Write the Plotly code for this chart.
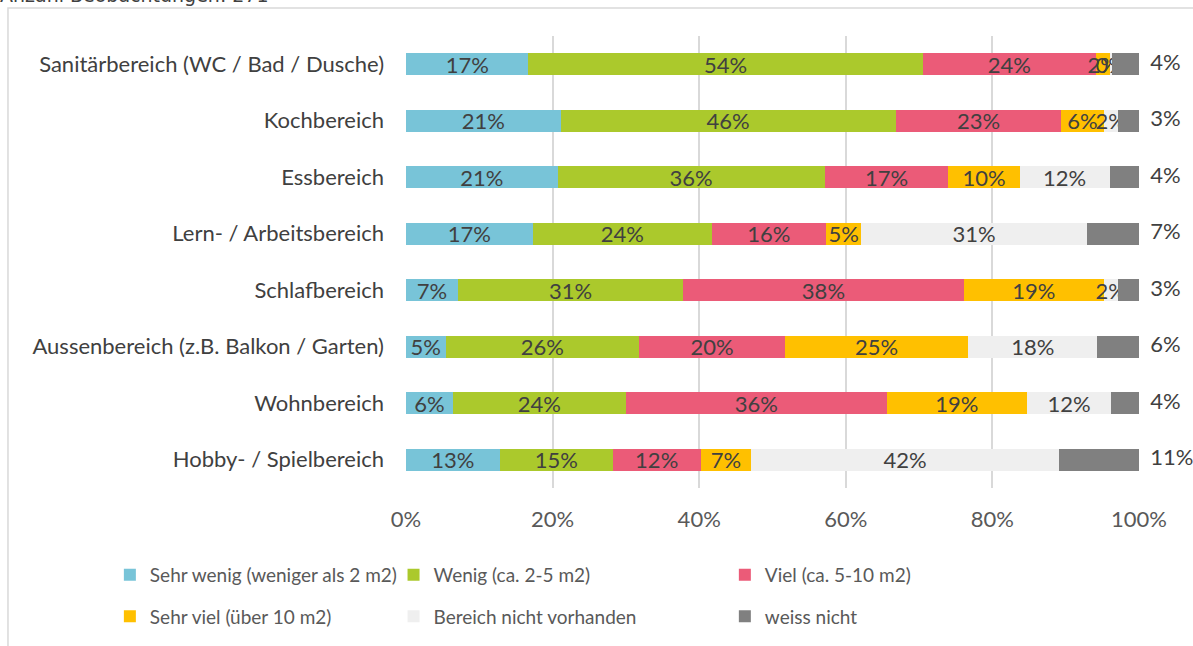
import plotly.graph_objects as graph_objects

# Anteile in Prozent, je Bereich (von oben nach unten wie im Original)
bereiche = [
    "Sanitärbereich (WC / Bad / Dusche)",
    "Kochbereich",
    "Essbereich",
    "Lern- / Arbeitsbereich",
    "Schlafbereich",
    "Aussenbereich (z.B. Balkon / Garten)",
    "Wohnbereich",
    "Hobby- / Spielbereich",
]

sehr_wenig = [16.7, 21.1, 20.7, 17.3, 7.1, 5.4, 6.4, 12.8]
wenig = [53.8, 45.7, 36.4, 24.4, 30.7, 26.4, 23.6, 15.4]
viel = [23.6, 22.6, 16.9, 15.6, 38.3, 19.9, 35.6, 12.0]
sehr_viel = [1.9, 5.8, 9.7, 4.8, 19.1, 25.0, 19.1, 6.9]
nicht_vorhanden = [0.3, 1.9, 12.3, 30.8, 1.9, 17.6, 11.5, 42.0]
weiss_nicht = [3.7, 2.9, 4.0, 7.1, 2.9, 5.7, 3.8, 10.9]

tick_werte = [0, 20, 40, 60, 80, 100]
tick_texte = ["0%", "20%", "40%", "60%", "80%", "100%"]

FONT = "Lato, 'Noto Sans', sans-serif"
TEXT = "#404040"

serien = [
    ("Sehr wenig (weniger als 2 m2)", sehr_wenig, "#78C4D8", "legend"),
    ("Wenig (ca. 2-5 m2)", wenig, "#ABC92C", "legend2"),
    ("Viel (ca. 5-10 m2)", viel, "#EB5B78", "legend3"),
    ("Sehr viel (über 10 m2)", sehr_viel, "#FFC000", "legend"),
    ("Bereich nicht vorhanden", nicht_vorhanden, "#EFEFEF", "legend2"),
    ("weiss nicht", weiss_nicht, "#808080", "legend3"),
]

fig = graph_objects.Figure()

for i, (name, werte, farbe, leg) in enumerate(serien):
    letzte = i == len(serien) - 1
    fig.add_trace(graph_objects.Bar(
        name=name, y=bereiche, x=werte, orientation="h",
        marker=dict(color=farbe, line=dict(width=0)),
        texttemplate="" if letzte else "%{x:.0f}%",
        textposition="inside",
        insidetextanchor="middle",
        textangle=0,
        constraintext="none",
        cliponaxis=False,
        textfont=dict(family=FONT, size=22, color=TEXT),
        legend=leg, legendgroup=name,
        hoverinfo="skip",
    ))

# "weiss nicht" steht rechts neben dem Balken
summen = [sum(s[1][k] for s in serien) for k in range(len(bereiche))]
fig.add_trace(graph_objects.Scatter(
    x=summen, y=bereiche, mode="text",
    text=[f"  {v:.0f}%" for v in weiss_nicht],
    textposition="middle right",
    textfont=dict(family=FONT, size=22, color=TEXT),
    cliponaxis=False, showlegend=False, hoverinfo="skip",
))

leg_font = dict(size=19, color="#595959")

fig.update_layout(
    width=1193, height=646,
    barmode="stack", bargap=0.605,
    paper_bgcolor="white", plot_bgcolor="white",
    font=dict(family=FONT, size=22, color=TEXT),
    margin=dict(l=406, r=54, t=36, b=158, autoexpand=False),
    xaxis=dict(range=[0, 100], tickvals=tick_werte, ticktext=tick_texte,
               showgrid=True, gridcolor="#D9D9D9", gridwidth=2, zeroline=False,
               automargin=False, ticks="", ticklabelstandoff=16,
               tickfont=dict(size=22, color="#595959"), fixedrange=True),
    yaxis=dict(categoryorder="array", categoryarray=bereiche[::-1], automargin=False,
               ticks="", ticklabelstandoff=21,
               tickfont=dict(size=22, color=TEXT), fixedrange=True),
    legend=dict(x=-0.404, y=-0.150, xanchor="left", yanchor="top", tracegroupgap=14,
                font=leg_font, bgcolor="rgba(0,0,0,0)"),
    legend2=dict(x=-0.017, y=-0.150, xanchor="left", yanchor="top", tracegroupgap=14,
                 font=leg_font, bgcolor="rgba(0,0,0,0)"),
    legend3=dict(x=0.435, y=-0.150, xanchor="left", yanchor="top", tracegroupgap=14,
                 font=leg_font, bgcolor="rgba(0,0,0,0)"),
    showlegend=True,
)

# Rahmen des Diagrammbereichs
fig.add_shape(type="rect", xref="paper", yref="paper",
              x0=-0.543, x1=1.08, y0=-0.36, y1=1.062,
              line=dict(color="#D9D9D9", width=1.5), layer="below")

fig.add_annotation(text="Anzahl Beobachtungen: 271", xref="paper", yref="paper",
                   x=-0.557, y=1.090, xanchor="left", yanchor="middle", showarrow=False,
                   font=dict(family="DejaVu Sans", size=19, color=TEXT))

# Seitenrand des Browsers entfernen, damit die Grafik bei 0/0 beginnt
fig.write_html("out.html", config=dict(displayModeBar=False),
               post_script="document.body.style.margin='0';")
